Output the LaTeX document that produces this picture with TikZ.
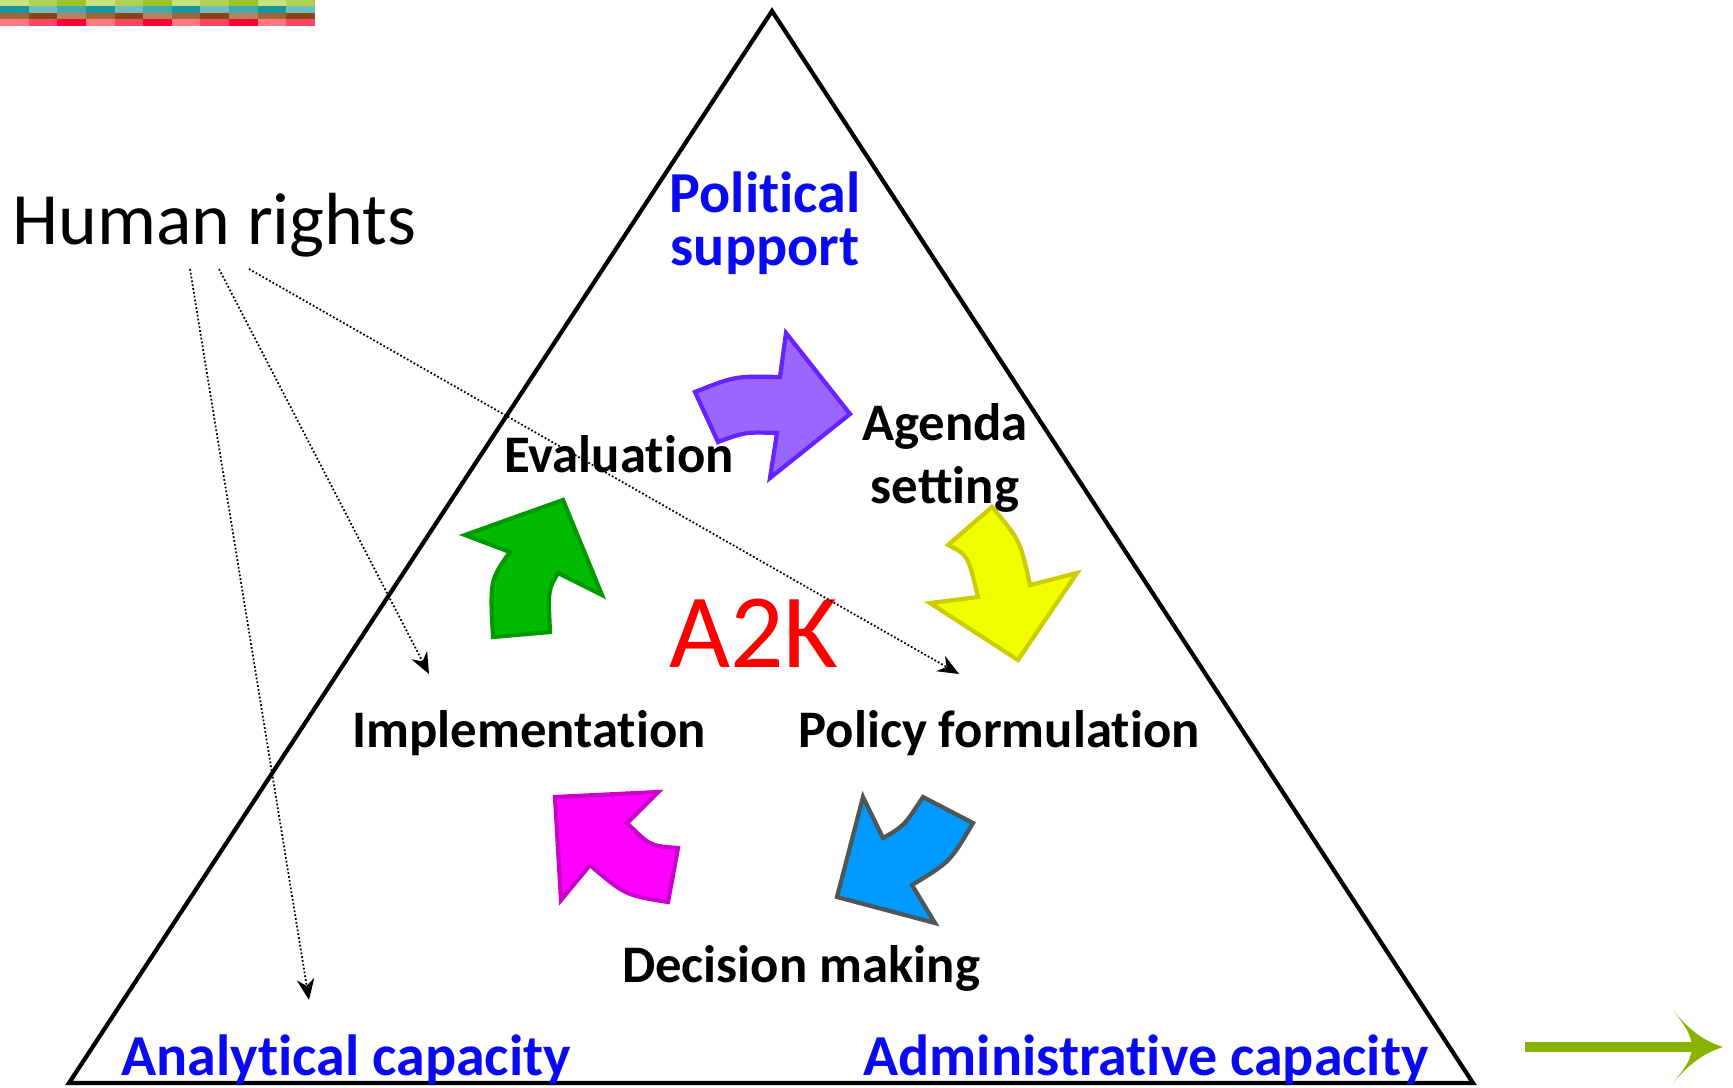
\documentclass[tikz,border=0pt]{standalone}
\usepackage{fontspec}
\setmainfont{Carlito}
\usepackage{xcolor}
\usetikzlibrary{arrows.meta, positioning}
\newcommand{\tiglyph}{t\kern0pt i}
\definecolor{stripg0}{RGB}{200,224,128}
\definecolor{stripg1}{RGB}{175,210,80}
\definecolor{stripg2}{RGB}{155,196,40}
\definecolor{stript0}{RGB}{20,150,160}
\definecolor{stript1}{RGB}{110,190,195}
\definecolor{stript2}{RGB}{60,170,175}
\definecolor{stripb0}{RGB}{165,100,55}
\definecolor{stripb1}{RGB}{140,70,20}
\definecolor{stripb2}{RGB}{185,130,90}
\definecolor{stripr0}{RGB}{255,120,130}
\definecolor{stripr1}{RGB}{255,70,100}
\definecolor{stripr2}{RGB}{255,0,60}
\definecolor{capblue}{RGB}{10,10,240}
\definecolor{purplefill}{RGB}{153,102,255}
\definecolor{purpleline}{RGB}{102,34,255}
\definecolor{yellowfill}{RGB}{238,255,0}
\definecolor{yellowline}{RGB}{204,204,0}
\definecolor{bluefill}{RGB}{0,153,255}
\definecolor{blueline}{RGB}{77,87,87}
\definecolor{magentafill}{RGB}{255,0,255}
\definecolor{magentaline}{RGB}{204,0,204}
\definecolor{greenfill}{RGB}{0,187,0}
\definecolor{greenline}{RGB}{0,153,0}
\definecolor{nextgreen}{RGB}{136,179,0}

\begin{document}
\begin{tikzpicture}[x=0.01cm, y=-0.01cm,
    stage/.style={font=\fontsize{15}{18}\selectfont\bfseries, align=center},
    capacity/.style={font=\fontsize{16.5}{15}\selectfont\bfseries, text=capblue, align=center},
    blockarrow/.style={line width=1.2pt, line join=miter},
    dotarrow/.style={line width=0.5pt, dash pattern=on 0.5pt off 0.6pt, -{Stealth[length=6pt, width=5pt]}}]
    \useasboundingbox (0,0) rectangle (1733,1087);

    % Colour strip
    \foreach \i in {0,...,10} {
        \pgfmathtruncatemacro{\k}{mod(\i,3)}
        \fill[stripg\k] (\i*28.64,0) rectangle ++(28.64,6);
        \fill[stript\k] (\i*28.64,6) rectangle ++(28.64,7);
        \fill[stripb\k] (\i*28.64,13) rectangle ++(28.64,6);
        \fill[stripr\k] (\i*28.64,19) rectangle ++(28.64,7);
    }

    % Triangle
    \draw[line width=1.2pt, line join=miter] (772,11) -- (1473,1083) -- (69,1083) -- cycle;

    % Corners
    \node[capacity] (political) at (765,223) {Poli\tiglyph{}cal\\support};
    \node[capacity] (analytical) at (346,1060) {Analy\tiglyph{}cal capacity};
    \node[capacity] (administrative) at (1146,1060) {Administra\tiglyph{}ve capacity};

    % Policy cycle
    \node[stage] (evaluation) at (619,454) {Evalua\tiglyph{}on};
    \node[stage] (agenda) at (945,458) {Agenda\\set\tiglyph{}ng};
    \node[stage] (implementation) at (529,733) {Implementa\tiglyph{}on};
    \node[stage] (formulation) at (999,733) {Policy formula\tiglyph{}on};
    \node[stage] (decision) at (801,968) {Decision making};
    \node[text=red, font=\fontsize{30}{34}\selectfont] (atok) at (754,633) {A2K};

    \node[font=\fontsize{21}{25}\selectfont, anchor=west] (rights) at (0,225) {Human rights};

    % Cycle arrows
    \filldraw[blockarrow, fill=purplefill, draw=purpleline]
        (695,392) -- (718,442) .. controls (745,432) .. (777,433) -- (770,478)
        -- (850,414) -- (786,333) -- (780,377) .. controls (735,376) .. (695,392) -- cycle;
    \filldraw[blockarrow, fill=yellowfill, draw=yellowline]
        (948,545) -- (992,507) .. controls (1020,540) .. (1030,585) -- (1077,573)
        -- (1018,660) -- (930,603) -- (978,597) .. controls (968,555) .. (948,545) -- cycle;
    \filldraw[blockarrow, fill=bluefill, draw=blueline]
        (923,797) -- (973,823) .. controls (950,862) .. (912,885) -- (935,923)
        -- (837,897) -- (863,797) -- (883,838) .. controls (904,826) .. (923,797) -- cycle;
    \filldraw[blockarrow, fill=magentafill, draw=magentaline]
        (555,797) -- (658,792) -- (627,823) .. controls (650,846) .. (678,848) -- (668,902)
        .. controls (625,895) .. (590,865) -- (561,900) -- cycle;
    \filldraw[blockarrow, fill=greenfill, draw=greenline]
        (493,637) -- (550,632) .. controls (548,590) .. (558,573) -- (602,595)
        -- (563,500) -- (465,535) -- (510,552) .. controls (490,580) .. (493,637) -- cycle;

    % Human rights links
    \coordinate (hr1) at (190,269);
    \coordinate (hr2) at (219,269);
    \coordinate (hr3) at (249,269);
    \coordinate (analyticalend) at (309,1000);
    \coordinate (implementationend) at (429,674);
    \coordinate (formulationend) at (959,674);
    \draw[dotarrow] (hr1) -- (analyticalend);
    \draw[dotarrow] (hr2) -- (implementationend);
    \draw[dotarrow] (hr3) -- (formulationend);

    % Next arrow
    \draw[nextgreen, line width=2.8pt] (1525,1047) -- (1700,1047);
    \fill[nextgreen] (1723,1047) .. controls (1700,1040) and (1685,1025) .. (1673,1010)
        .. controls (1688,1030) .. (1693,1047) .. controls (1688,1064) .. (1673,1083)
        .. controls (1685,1069) and (1700,1054) .. (1723,1047) -- cycle;
\end{tikzpicture}
\end{document}
